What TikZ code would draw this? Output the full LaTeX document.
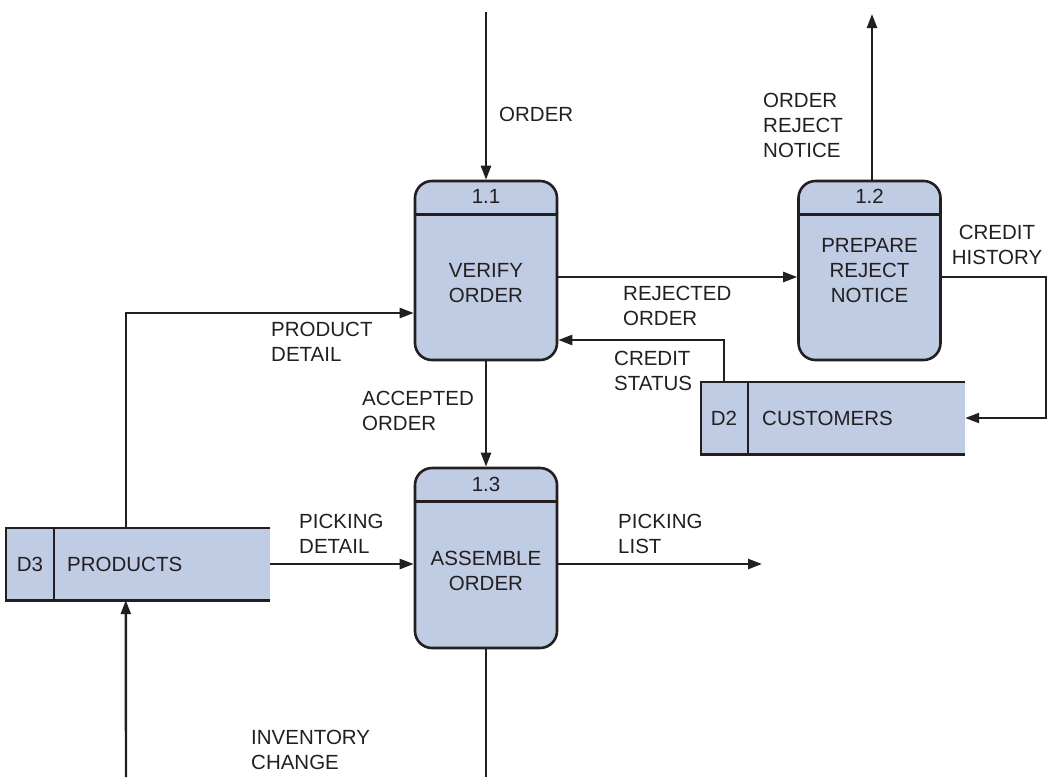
\documentclass[tikz,border=0pt]{standalone}
\usepackage{fontspec}
\setmainfont{Liberation Sans}
\usetikzlibrary{arrows.meta,calc}
\definecolor{boxfill}{RGB}{191,204,228}
\definecolor{ink}{RGB}{35,31,32}
\begin{document}
\begin{tikzpicture}[x=1pt,y=-1pt,
  every node/.style={font=\fontsize{20.5}{25}\selectfont, text=ink},
  proc/.style={draw=ink, line width=2.6pt, fill=boxfill, rounded corners=17pt, minimum width=142pt, minimum height=179pt, inner sep=0pt},
  store/.style={fill=boxfill, minimum width=264pt, minimum height=72pt, inner sep=0pt},
  flow/.style={draw=ink, line width=2.4pt, -{Triangle[length=14pt,width=10pt]}},
  plain/.style={draw=ink, line width=2.4pt},
  edge/.style={draw=ink, line width=2.6pt},
  lbl/.style={align=left, anchor=west, inner sep=0pt},
]
\useasboundingbox (0,0) rectangle (1048,777);

% processes
\node[proc] (p11) at (486,270.5) {};
\node[proc] (p12) at (869.5,270.5) {};
\node[proc, minimum height=180pt] (p13) at (486,558) {};
\foreach \p in {p11,p12,p13}{
  \draw[edge] ($(\p.north west)+(0,35)$) -- ($(\p.north east)+(0,35)$);
}
\node (n11) at ($(p11.north)+(0,17)$) {1.1};
\node (n12) at ($(p12.north)+(0,17)$) {1.2};
\node (n13) at ($(p13.north)+(0,18)$) {1.3};
\node[align=center] (t11) at (486,283) {VERIFY\\ORDER};
\node[align=center] (t12) at (869.5,271) {PREPARE\\REJECT\\NOTICE};
\node[align=center] (t13) at (486,570.5) {ASSEMBLE\\ORDER};

% data stores
\node[store] (d2) at (833,418) {};
\draw[edge] (d2.north east) -- (d2.north west) -- (d2.south west) -- (d2.south east);
\draw[edge] ($(d2.north west)+(47,0)$) -- ($(d2.south west)+(47,0)$);
\node (d2id) at (724,418) {D2};
\node[anchor=west, inner sep=0pt] (d2name) at (762,418) {CUSTOMERS};

\node[store] (d3) at (138,564) {};
\draw[edge] (d3.north east) -- (d3.north west) -- (d3.south west) -- (d3.south east);
\draw[edge] ($(d3.north west)+(48,0)$) -- ($(d3.south west)+(48,0)$);
\node (d3id) at (30,564) {D3};
\node[anchor=west, inner sep=0pt] (d3name) at (67,564) {PRODUCTS};

% free ends
\coordinate (orderin) at (486,12);
\coordinate (rejout) at (872,14);
\coordinate (listout) at (762,564);
\coordinate (bottomout) at (486,777);
\coordinate (invin) at (126,777);
\coordinate (hist) at (1046,277);

% flows
\draw[flow] (orderin) -- (p11.north);
\draw[flow] (p12.north -| rejout) -- (rejout);
\draw[flow] (p11.east |- 0,277) -- (p12.west |- 0,277);
\draw[flow] ($(d2.north west)+(23,0)$) |- (p11.east |- 0,340);
\draw[flow] (p12.east |- hist) -- (hist) |- (d2.east);
\draw[flow] ($(d3.north west)+(120,0)$) |- (p11.west |- 0,313);
\draw[flow] (p11.south) -- (p13.north);
\draw[flow] (d3.east) -- (p13.west |- d3.east);
\draw[flow] (p13.east |- d3.east) -- (listout);
\draw[plain] (p13.south) -- (bottomout);
\draw[flow] (invin) -- ($(d3.south west)+(120,0)$);

% labels
\node[lbl] (l1) at (499,114) {ORDER};
\node[lbl] (l2) at (763,125.5) {ORDER\\REJECT\\NOTICE};
\node[lbl] (l3) at (623,306) {REJECTED\\ORDER};
\node[lbl] (l4) at (614,370.5) {CREDIT\\STATUS};
\node[align=center, inner sep=0pt] (l5) at (997,244.5) {CREDIT\\HISTORY};
\node[lbl] (l6) at (271,341.5) {PRODUCT\\DETAIL};
\node[lbl] (l7) at (362,410.5) {ACCEPTED\\ORDER};
\node[lbl] (l8) at (299,533.5) {PICKING\\DETAIL};
\node[lbl] (l9) at (618,533.5) {PICKING\\LIST};
\node[lbl] (l10) at (251,750) {INVENTORY\\CHANGE};
\end{tikzpicture}
\end{document}
